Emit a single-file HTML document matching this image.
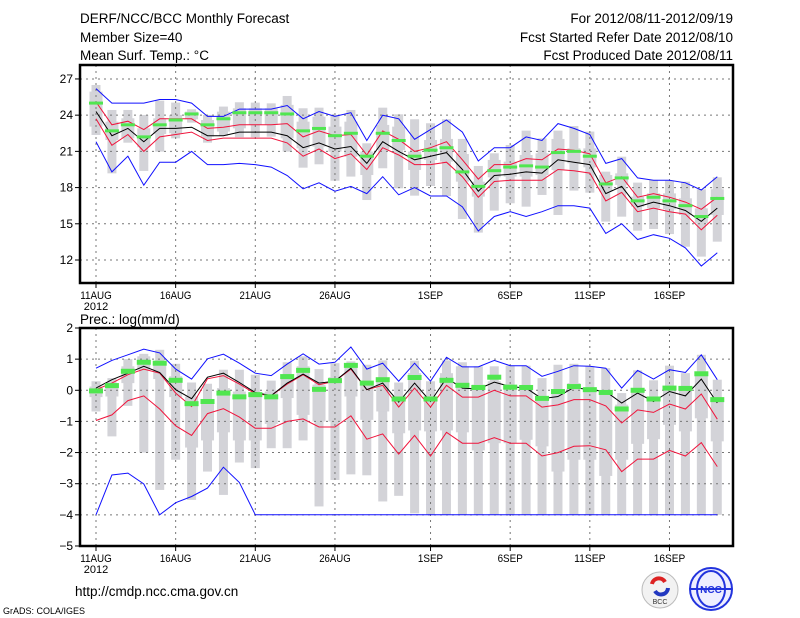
<!DOCTYPE html>
<html><head><meta charset="utf-8"><style>
html,body{margin:0;padding:0;background:#fff;}
svg{display:block;font-family:"Liberation Sans",sans-serif;}
</style></head><body>
<svg id="chart" width="800" height="618" viewBox="0 0 800 618" xmlns="http://www.w3.org/2000/svg">
<g font-size="13.5" fill="#000">
<text x="80" y="23">DERF/NCC/BCC Monthly Forecast</text>
<text x="80" y="42">Member Size=40</text>
<text x="80" y="60">Mean Surf. Temp.: °C</text>
<text x="733" y="23" text-anchor="end">For 2012/08/11-2012/09/19</text>
<text x="733" y="42" text-anchor="end">Fcst Started Refer Date 2012/08/10</text>
<text x="733" y="60" text-anchor="end">Fcst Produced Date 2012/08/11</text>
<text x="80" y="324">Prec.: log(mm/d)</text>
<text x="75" y="596">http://cmdp.ncc.cma.gov.cn</text>
<text x="3" y="614" font-size="9">GrADS: COLA/IGES</text>
</g>
<g>
<circle cx="660" cy="590" r="18" fill="#f2f2f2" stroke="#bbb"/>
<path d="M652 584 a7 7 0 0 1 13 -2" stroke="#d22" stroke-width="4" fill="none"/>
<path d="M668 588 a7 7 0 0 1 -13 3" stroke="#2238c0" stroke-width="4" fill="none"/>
<text x="660" y="604" font-size="7" text-anchor="middle" fill="#333">BCC</text>
<circle cx="711" cy="589" r="21" fill="#eef" stroke="#2233dd" stroke-width="2"/>
<ellipse cx="711" cy="589" rx="14" ry="18" fill="none" stroke="#2233dd" stroke-width="2"/>
<line x1="690" y1="589" x2="732" y2="589" stroke="#2233dd" stroke-width="2"/>
<text x="711" y="593" font-size="10" text-anchor="middle" fill="#2233dd" font-weight="bold">NCC</text>
</g>
<g id="top"></g>
<g id="bot"></g>
</svg>
<script>
const tickLabels = ["11AUG","16AUG","21AUG","26AUG","1SEP","6SEP","11SEP","16SEP"];
const tickDays = [0,5,10,15,21,26,31,36];
const tempYTicks = [12,15,18,21,24,27];
const precYTicks = [-5,-4,-3,-2,-1,0,1,2];
const tMax = [26.2,25.0,25.0,25.0,25.3,25.3,25.0,23.9,23.9,24.5,24.5,24.5,24.8,23.7,24.3,23.9,24.2,21.9,24.0,23.7,22.0,22.8,23.6,22.6,20.2,21.3,21.3,22.2,21.9,23.3,22.9,22.4,20.0,20.4,18.8,18.6,18.6,18.4,17.8,18.9];
const tMin = [21.8,19.3,20.6,18.2,20.1,20.1,21.0,19.9,19.9,20.0,19.9,19.7,19.0,17.9,18.4,17.7,18.1,17.5,18.9,17.4,18.0,17.3,17.3,16.4,14.4,15.6,16.0,15.6,16.0,16.5,16.5,16.3,14.2,15.0,13.7,14.1,13.8,13.0,11.5,12.6];
const tMean = [24.3,22.3,22.9,21.8,22.9,22.9,23.0,22.3,22.3,22.6,22.6,22.6,22.3,21.3,21.7,21.2,21.4,20.0,21.8,21.0,20.3,20.6,20.9,19.5,17.7,19.0,19.1,19.3,19.2,20.3,20.1,19.9,17.5,18.1,16.4,16.8,16.5,16.1,15.2,16.3];
const tUp = [25.1,23.2,23.5,22.8,23.7,23.7,23.7,22.9,23.0,23.2,23.2,23.2,23.3,22.2,22.7,22.3,22.4,20.7,22.7,22.0,21.0,21.3,21.8,20.3,18.7,19.9,19.9,20.4,20.3,21.2,21.1,20.8,18.4,18.9,17.2,17.5,17.2,16.8,16.2,17.2];
const tLo = [23.7,21.5,22.4,21.0,22.2,22.4,22.6,21.9,22.1,22.1,22.1,22.1,21.7,20.6,21.2,20.4,20.8,19.5,21.3,20.7,19.9,19.9,20.1,18.9,17.2,18.5,18.6,18.6,18.6,19.5,19.4,19.2,16.9,17.6,16.0,16.3,16.0,15.8,14.5,15.7];
const tGreen = [25.0,22.7,23.2,22.2,23.2,23.6,24.1,23.2,23.7,24.2,24.2,24.2,24.1,22.7,22.9,22.3,22.5,20.6,22.5,21.9,20.6,21.1,21.3,19.3,18.1,19.4,19.7,19.8,19.7,20.9,21.0,20.6,18.3,18.8,16.9,17.2,16.9,16.5,15.6,17.1];
const tWTop = [26.5,24.43,24.43,24.02,25.2,25.04,24.49,24.02,24.71,25.07,25.04,24.98,25.59,24.57,24.62,24.02,24.43,21.67,24.62,24.07,23.66,23.33,23.66,22.03,19.79,20.84,21.53,22.72,22.08,22.72,23.10,22.64,19.32,20.56,18.41,18.63,18.57,18.49,17.86,18.85];
const tWBot = [22.36,19.18,21.72,19.38,20.98,22.08,23.38,21.72,22.28,22.17,22.17,22.22,20.98,19.65,19.93,18.57,18.91,16.97,19.60,17.94,17.33,18.13,17.30,15.40,14.27,16.09,16.70,16.42,17.39,15.73,17.75,17.58,15.18,15.59,14.43,14.57,14.15,13.10,12.28,13.52];
const tBTop = [25.95,23.46,23.74,22.91,23.74,24.02,24.29,23.60,24.29,24.57,24.57,24.57,24.85,23.46,23.88,23.05,23.46,20.98,23.19,23.05,20.98,21.94,22.03,20.78,18.49,20.29,20.15,20.70,20.84,22.03,21.25,21.25,19.04,19.18,17.25,17.52,17.52,17.11,16.28,17.86];
const tBBot = [23.05,21.94,22.08,21.34,22.44,22.50,23.66,22.22,22.64,22.91,23.19,23.19,22.08,21.25,21.39,20.98,20.56,19.04,21.12,21.12,19.46,20.29,20.15,18.49,17.25,18.85,18.91,18.91,19.04,19.46,20.01,19.68,17.66,18.22,16.42,16.28,16.20,15.73,15.04,15.73];
const pMax = [0.71,0.96,1.14,1.32,1.20,0.68,0.36,1.01,1.16,0.87,0.55,0.47,0.84,1.17,0.84,0.90,1.39,0.68,0.87,0.29,0.87,0.29,1.06,0.75,0.75,0.96,0.79,0.79,0.45,0.61,0.79,0.77,0.71,0.07,0.64,0.36,0.66,0.57,1.14,0.34];
const pMin = [-4,-2.72,-2.66,-3.01,-4,-3.61,-3.41,-3.14,-2.47,-2.96,-4,-4,-4,-4,-4,-4,-4,-4,-4,-4,-4,-4,-4,-4,-4,-4,-4,-4,-4,-4,-4,-4,-4,-4,-4,-4,-4,-4,-4,-4];
const pMean = [0.07,0.34,0.55,0.77,0.57,0.02,-0.27,0.42,0.55,0.25,-0.07,-0.17,0.23,0.52,0.23,0.29,0.71,0.02,0.23,-0.38,0.23,-0.36,0.39,0.07,0.04,0.26,0.12,0.07,-0.27,-0.20,0.09,0.02,-0.04,-0.41,-0.09,-0.36,-0.04,-0.18,0.36,-0.41];
const pUp = [0.02,0.23,0.50,0.68,0.55,-0.09,-0.52,0.37,0.47,0.20,-0.11,-0.17,0.20,0.50,0.18,0.29,0.68,0.02,0.16,-0.54,0.07,-0.54,0.16,-0.22,-0.22,0.0,-0.18,-0.18,-0.54,-0.47,-0.30,-0.30,-0.50,-1.05,-0.63,-0.71,-0.44,-0.60,-0.12,-0.93];
const pLo = [-0.97,-0.79,-0.33,-0.18,-0.60,-1.14,-1.45,-0.75,-0.59,-0.86,-1.22,-1.22,-1.0,-0.92,-1.18,-1.18,-0.82,-1.57,-1.40,-2.05,-1.45,-2.11,-1.35,-1.70,-1.70,-1.52,-1.70,-1.70,-2.11,-2.0,-1.80,-1.78,-1.91,-2.61,-2.21,-2.21,-1.93,-2.11,-1.68,-2.45];
const pGreen = [-0.02,0.15,0.61,0.90,0.87,0.32,-0.43,-0.36,-0.09,-0.21,-0.14,-0.21,0.44,0.64,0.03,0.31,0.80,0.23,0.34,-0.28,0.41,-0.28,0.32,0.16,0.09,0.42,0.10,0.09,-0.26,-0.04,0.12,0.02,-0.07,-0.60,0.0,-0.28,0.07,0.06,0.53,-0.30];
const pWTop = [0.29,0.39,1.00,1.17,1.30,0.85,0.25,0.21,0.66,0.66,0.50,0.31,0.90,1.09,0.68,0.87,0.93,0.82,0.96,0.25,0.95,0.29,0.96,0.90,0.77,0.77,0.79,0.79,0.39,0.82,0.85,0.77,0.71,-0.09,0.64,0.32,0.79,0.55,1.14,0.34];
const pWBot = [-0.68,-1.48,-0.50,-2.00,-3.20,-2.23,-3.52,-2.61,-3.36,-2.32,-2.50,-1.86,-1.86,-1.61,-3.73,-2.88,-2.70,-2.73,-3.57,-3.39,-3.95,-4,-4,-4,-4,-4,-4,-4,-4,-4,-4,-4,-4,-4,-4,-4,-4,-4,-4,-4];
const pBTop = [0.12,0.23,0.77,1.09,0.90,0.45,-0.20,-0.36,0.07,-0.04,-0.09,-0.04,0.45,0.77,0.18,0.42,0.87,0.29,0.34,-0.20,0.55,-0.20,0.55,0.77,0.18,0.29,0.12,0.12,-0.25,0.02,0.23,0.07,-0.04,-0.46,0.02,-0.20,0.07,0.02,0.55,-0.25];
const pBBot = [-0.22,-0.20,0.23,0.66,0.36,-0.22,-1.84,-1.61,-1.35,-1.61,-1.61,-1.08,-0.25,-0.79,-1.00,-1.00,-0.20,-0.95,-0.68,-1.38,-1.29,-1.32,-1.29,-1.35,-1.93,-1.70,-1.70,-1.59,-1.80,-2.61,-2.23,-2.23,-2.75,-2.23,-1.72,-1.57,-1.11,-1.32,-0.90,-1.64];

const NS = "http://www.w3.org/2000/svg";
function mk(parent, tag, attrs){ const e=document.createElementNS(NS,tag); for(const k in attrs) e.setAttribute(k,attrs[k]); parent.appendChild(e); return e; }
const xDay = d => 96 + d*15.93;

function panel(g, cfg){
  const {top,bottom,yScale,yTicks,grid,prefix,greenH} = cfg;
  for(let i=0;i<cfg.wTop.length;i++){
    const x=xDay(i);
    const w=mk(g,'rect',{x:x-4.5,y:yScale(cfg.wTop[i]),width:9,height:Math.max(1,yScale(cfg.wBot[i])-yScale(cfg.wTop[i])),fill:'#d3d3d8'});
    
    
    const b=mk(g,'rect',{x:x-6.5,y:yScale(cfg.bTop[i]),width:13,height:Math.max(1,yScale(cfg.bBot[i])-yScale(cfg.bTop[i])),fill:'#d3d3d8'});
    
    
  }
  grid.forEach(v=>{ const l=mk(g,'line',{x1:80,x2:733,y1:yScale(v),y2:yScale(v),stroke:'#777','stroke-dasharray':'2,4'});
    
     });
  tickDays.forEach(d=>{ const l=mk(g,'line',{x1:xDay(d),x2:xDay(d),y1:top,y2:bottom,stroke:'#777','stroke-dasharray':'2,4'});
    
     });
  const line=(arr,col,name)=>{ const p=mk(g,'polyline',{points:arr.map((v,i)=>xDay(i).toFixed(1)+','+yScale(v).toFixed(1)).join(' '),fill:'none',stroke:col,'stroke-width':1});
    
     };
  line(cfg.max,'#1010ff',prefix+'-max-line');
  line(cfg.min,'#1010ff',prefix+'-min-line');
  line(cfg.up,'#f0143c',prefix+'-upper-line');
  line(cfg.lo,'#f0143c',prefix+'-lower-line');
  line(cfg.mean,'#000',prefix+'-mean-line');
  cfg.green.forEach((v,i)=>{ const r=mk(g,'rect',{x:xDay(i)-7,y:yScale(v)-greenH/2,width:14,height:greenH,fill:'#50e650'});
    
     });
  const f=mk(g,'rect',{x:80,y:top,width:653,height:bottom-top,fill:'none',stroke:'#000','stroke-width':2.5});
  
  
  yTicks.forEach(v=>{ const y=yScale(v);
    mk(g,'line',{x1:75,x2:80,y1:y,y2:y,stroke:'#000'});
    const t=mk(g,'text',{x:73,y:y+4,'font-size':12,'text-anchor':'end'}); t.textContent=String(v).replace('-','\u2212');
    
     });
  tickDays.forEach((d,k)=>{ const x=xDay(d);
    mk(g,'line',{x1:x,x2:x,y1:bottom,y2:bottom+5,stroke:'#000'});
    const t=mk(g,'text',{x:x,y:bottom+16,'font-size':11,'text-anchor':'middle',textLength:tickLabels[k].length*6.3,lengthAdjust:'spacingAndGlyphs'}); t.textContent=tickLabels[k];
    
     });
  const yr=mk(g,'text',{x:96,y:bottom+27,'font-size':11,'text-anchor':'middle'}); yr.textContent='2012';
  
  
}

const tY = v => 260 - (v-12)*12.07;
const pY = v => 328 + (2-v)*31.14;
panel(document.getElementById('top'),{top:65,bottom:283,yScale:tY,yTicks:tempYTicks,grid:tempYTicks,prefix:'temp',greenH:3,
  wTop:tWTop,wBot:tWBot,bTop:tBTop,bBot:tBBot,max:tMax,min:tMin,up:tUp,lo:tLo,mean:tMean,green:tGreen});
panel(document.getElementById('bot'),{top:328,bottom:546,yScale:pY,yTicks:precYTicks,grid:[1,0,-1,-2,-3,-4],prefix:'prec',greenH:5,
  wTop:pWTop,wBot:pWBot,bTop:pBTop,bBot:pBBot,max:pMax,min:pMin,up:pUp,lo:pLo,mean:pMean,green:pGreen});
</script>
</body></html>
